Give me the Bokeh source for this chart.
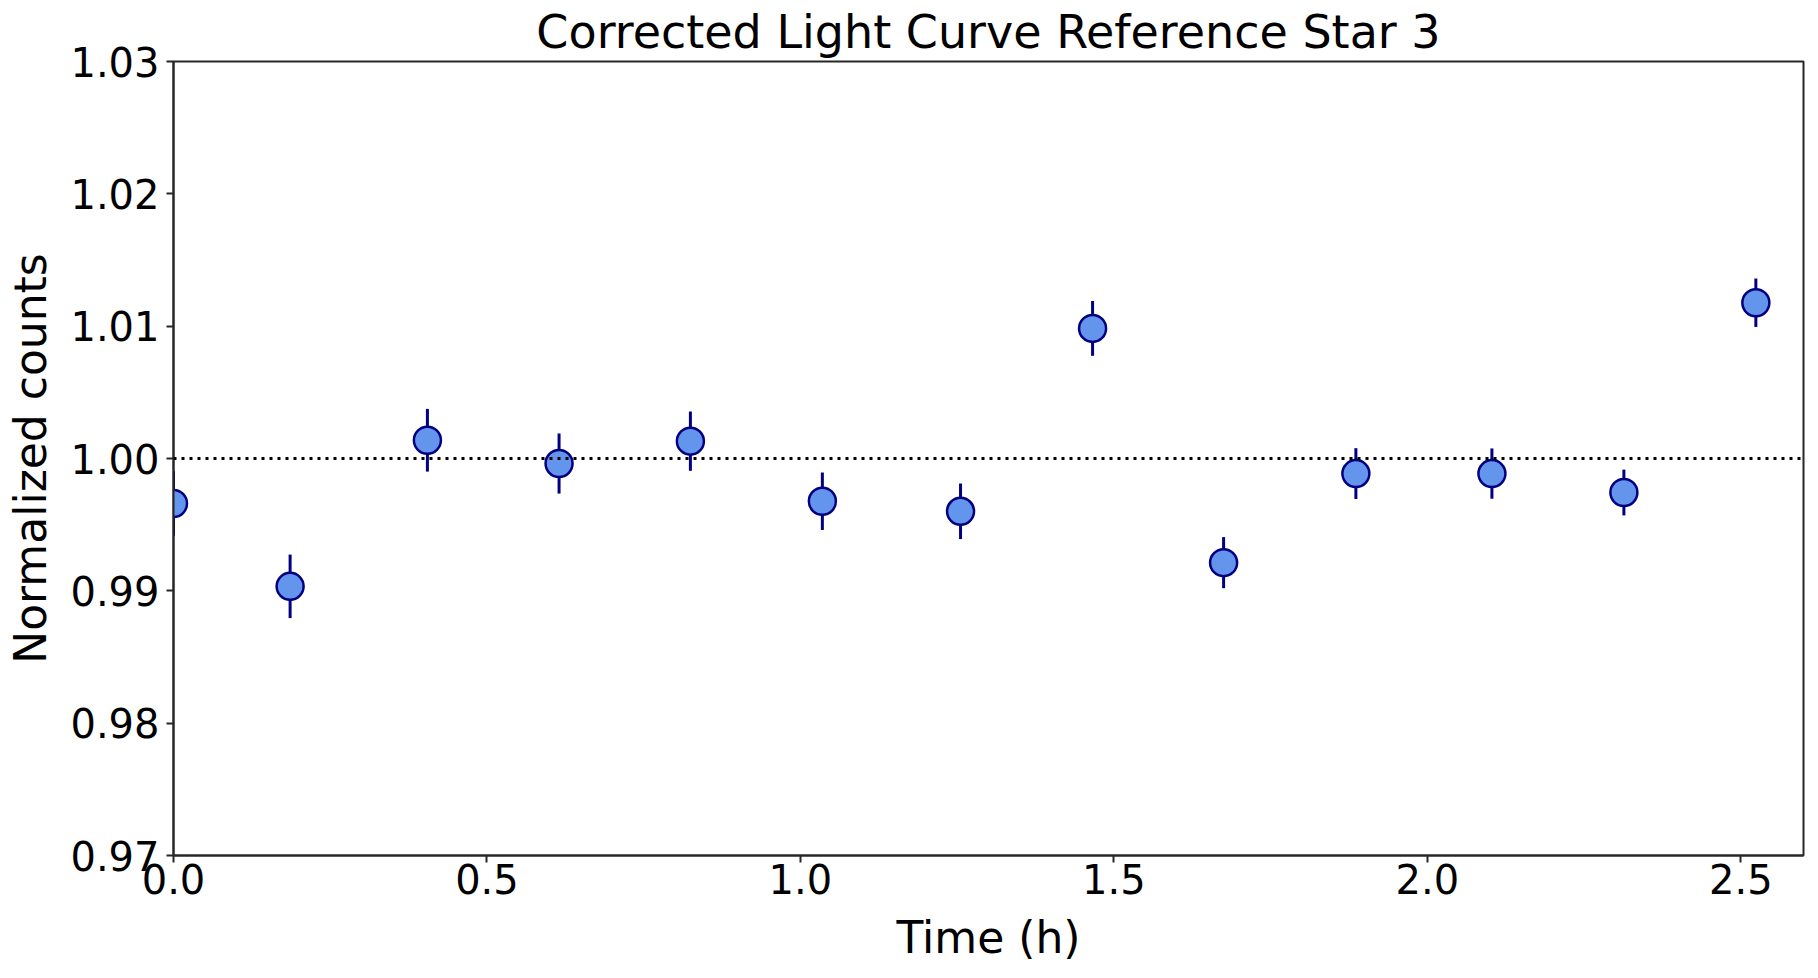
from bokeh.plotting import figure
from bokeh.models import Range1d, FixedTicker, NumeralTickFormatter, Span, ColumnDataSource
from bokeh.embed import file_html
from bokeh.resources import INLINE

# Data
time_h = [0.0, 0.186, 0.405, 0.615, 0.8245, 1.035, 1.2554, 1.466, 1.675, 1.886, 2.103, 2.3135, 2.524]
norm_counts = [0.9966, 0.99034, 1.00138, 0.99962, 1.00131, 0.99677, 0.99601, 1.00983,
               0.99213, 0.99886, 0.99886, 0.99743, 1.01177]
errors = [0.00243, 0.0024, 0.00237, 0.00227, 0.00224, 0.00217, 0.0021, 0.00207,
          0.00193, 0.00192, 0.0019, 0.00173, 0.00183]
x_ticks = [0.0, 0.5, 1.0, 1.5, 2.0, 2.5]
y_ticks = [0.97, 0.98, 0.99, 1.00, 1.01, 1.02, 1.03]

src = ColumnDataSource(dict(
    x=time_h, y=norm_counts,
    lo=[v - e for v, e in zip(norm_counts, errors)],
    hi=[v + e for v, e in zip(norm_counts, errors)],
))

FONT = "DejaVu Sans"

p = figure(width=1808, height=968, output_backend="svg", toolbar_location=None,
           x_range=Range1d(0, 2.6), y_range=Range1d(0.97, 1.03),
           min_border_left=173, min_border_right=5, min_border_top=59, min_border_bottom=113,
           title="Corrected Light Curve Reference Star 3")

p.title.align = "center"
p.title.text_font = FONT
p.title.text_font_size = "46px"
p.title.text_font_style = "normal"
p.title.text_color = "black"
p.title.offset = 0
p.title.standoff = 5

p.xgrid.visible = False
p.ygrid.visible = False
p.outline_line_color = "#262626"
p.outline_line_width = 2
p.background_fill_color = "white"
p.border_fill_color = "white"

for ax in (p.xaxis[0], p.yaxis[0]):
    ax.axis_line_color = "#262626"
    ax.axis_line_width = 2
    ax.major_tick_line_color = "#262626"
    ax.major_tick_line_width = 2
    ax.major_tick_out = 7
    ax.major_tick_in = 0
    ax.minor_tick_line_color = None
    ax.major_label_text_font = FONT
    ax.major_label_text_font_size = "40px"
    ax.major_label_text_color = "black"
    ax.axis_label_text_font = FONT
    ax.axis_label_text_font_size = "44px"
    ax.axis_label_text_font_style = "normal"
    ax.axis_label_text_color = "black"

p.xaxis.ticker = FixedTicker(ticks=x_ticks)
p.yaxis.ticker = FixedTicker(ticks=y_ticks)
p.xaxis.formatter = NumeralTickFormatter(format="0.0")
p.yaxis.formatter = NumeralTickFormatter(format="0.00")
p.xaxis.axis_label = "Time (h)"
p.yaxis.axis_label = "Normalized counts"
p.xaxis.major_label_standoff = 1
p.yaxis.major_label_standoff = 7
p.xaxis.axis_label_standoff = 15
p.yaxis.axis_label_standoff = 11

ref = Span(location=1.0, dimension="width", line_color="black", line_width=3, line_dash="3 5")
p.add_layout(ref)

p.segment(x0="x", y0="lo", x1="x", y1="hi", source=src, line_color="#000080", line_width=3)
p.scatter(x="x", y="y", source=src, size=27, marker="circle",
          fill_color="#6495ED", line_color="#000080", line_width=2.5)

open("out.html", "w").write(file_html(p, INLINE))
